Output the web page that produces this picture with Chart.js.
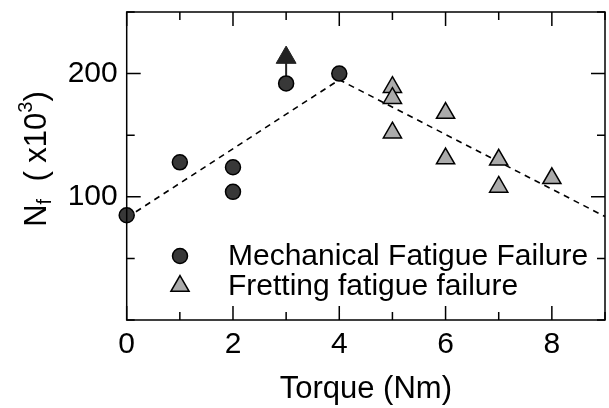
<!DOCTYPE html>
<html>
<head>
<meta charset="utf-8">
<script src="https://cdn.jsdelivr.net/npm/chart.js@4"></script>
<style>
  html, body { margin: 0; padding: 0; background: #fff; }
  #wrap { width: 609px; height: 408px; }
</style>
</head>
<body>
<div id="wrap"><canvas id="scatter-chart"></canvas></div>
<script>
// data (Nf in x10^3 cycles)
const mechTorque = [0, 1, 2, 2, 3, 4];
const mechCycles = [85, 128, 124, 104, 192, 200];
const frettTorque = [5, 5, 5, 6, 6, 7, 7, 8];
const frettCycles = [189, 180, 152, 168, 131, 130, 108, 115];
const runoutTorque = [3, 3];
const runoutCycles = [192, 213];
const trendTorque = [0, 4, 9];
const trendCycles = [83, 195, 84];
const xLabeled = [0, 2, 4, 6, 8];
const yLabeled = [100, 200];
const legendLabels = ["Mechanical Fatigue Failure", "Fretting fatigue failure"];

const pts = (xs, ys) => xs.map((x, i) => ({ x: x, y: ys[i] }));
const FONT = "Arial, 'Liberation Sans', sans-serif";

// box + inward ticks on all four sides
const frame = {
  id: 'boxTicks',
  afterDraw(chart) {
    const ctx = chart.ctx;
    const a = chart.chartArea;
    const sx = chart.scales.x, sy = chart.scales.y;
    ctx.save();
    ctx.strokeStyle = '#000';
    ctx.lineWidth = 1.5;
    ctx.setLineDash([]);
    ctx.strokeRect(a.left, a.top, a.right - a.left, a.bottom - a.top);
    ctx.beginPath();
    for (let v = sx.min; v <= sx.max; v += 1) {
      const px = sx.getPixelForValue(v);
      const len = xLabeled.includes(v) ? 14 : 8;
      ctx.moveTo(px, a.bottom); ctx.lineTo(px, a.bottom - len);
      ctx.moveTo(px, a.top); ctx.lineTo(px, a.top + len);
    }
    for (let v = sy.min; v <= sy.max; v += 50) {
      const py = sy.getPixelForValue(v);
      const len = yLabeled.includes(v) ? 14 : 8;
      ctx.moveTo(a.left, py); ctx.lineTo(a.left + len, py);
      ctx.moveTo(a.right, py); ctx.lineTo(a.right - len, py);
    }
    ctx.stroke();
    ctx.restore();
  }
};

// legend inside the plot + y title with sub/superscript
const extras = {
  id: 'extras',
  afterDraw(chart) {
    const { ctx } = chart;
    ctx.save();
    const items = [chart.data.datasets[0], chart.data.datasets[1]];
    const rows = [256, 286];
    items.forEach((ds, i) => {
      ctx.fillStyle = ds.pointBackgroundColor;
      ctx.strokeStyle = ds.pointBorderColor;
      ctx.lineWidth = ds.pointBorderWidth;
      ctx.beginPath();
      if (ds.pointStyle === 'circle') {
        ctx.arc(180, rows[i], ds.pointRadius, 0, Math.PI * 2);
      } else {
        const r = ds.pointRadius;
        ctx.moveTo(180, rows[i] - r);
        ctx.lineTo(180 + r * 0.866, rows[i] + r / 2);
        ctx.lineTo(180 - r * 0.866, rows[i] + r / 2);
        ctx.closePath();
      }
      ctx.fill(); ctx.stroke();
      ctx.fillStyle = '#000';
      ctx.font = '30px ' + FONT;
      ctx.textBaseline = 'middle';
      ctx.textAlign = 'left';
      ctx.fillText(legendLabels[i], 228, rows[i] + 1);
    });

    // y axis title
    ctx.translate(46, 159);
    ctx.rotate(-Math.PI / 2);
    ctx.textBaseline = 'alphabetic';
    ctx.textAlign = 'left';
    const big = '31px ' + FONT, small = '20px ' + FONT;
    const parts = [
      { t: 'N', f: big, dy: 0 },
      { t: 'f', f: small, dy: 5 },
      { t: '  ( x10', f: big, dy: 0 },
      { t: '3', f: small, dy: -14 },
      { t: ')', f: big, dy: 0 }
    ];
    let total = 0;
    parts.forEach(p => { ctx.font = p.f; p.w = ctx.measureText(p.t).width; total += p.w; });
    let cx = -total / 2;
    ctx.fillStyle = '#000';
    parts.forEach(p => { ctx.font = p.f; ctx.fillText(p.t, cx, p.dy); cx += p.w; });
    ctx.restore();
  }
};

new Chart(document.getElementById("scatter-chart"), {
  type: 'scatter',
  data: {
    datasets: [
      {
        label: legendLabels[0],
        data: pts(mechTorque, mechCycles),
        pointStyle: 'circle',
        pointRadius: 7.5,
        pointBackgroundColor: '#383838',
        pointBorderColor: '#000',
        pointBorderWidth: 1.5,
        clip: false
      },
      {
        label: legendLabels[1],
        data: pts(frettTorque, frettCycles),
        pointStyle: 'triangle',
        pointRadius: 10.5,
        pointBackgroundColor: '#ababab',
        pointBorderColor: '#000',
        pointBorderWidth: 1.5,
        clip: false
      },
      {
        label: 'run-out',
        data: pts(runoutTorque, runoutCycles),
        showLine: true,
        borderColor: '#222',
        borderWidth: 2,
        pointStyle: 'triangle',
        pointRadius: [0, 11.5],
        pointBackgroundColor: '#222',
        pointBorderColor: '#222',
        pointBorderWidth: 1,
        clip: false
      },
      {
        label: 'trend',
        data: pts(trendTorque, trendCycles),
        showLine: true,
        borderColor: '#000',
        borderWidth: 1.6,
        borderDash: [6, 5],
        pointRadius: 0,
        clip: false
      }
    ]
  },
  options: {
    responsive: true,
    maintainAspectRatio: false,
    animation: false,
    layout: { autoPadding: false, padding: { top: 12, right: 4, left: 0, bottom: 0 } },
    plugins: {
      legend: { display: false },
      tooltip: { enabled: false }
    },
    scales: {
      x: {
        type: 'linear',
        min: 0, max: 9,
        grid: { display: false, drawTicks: false },
        border: { display: false },
        ticks: {
          stepSize: 1,
          padding: 0,
          color: '#000',
          font: { size: 30, family: FONT, lineHeight: '50px' },
          callback: v => xLabeled.includes(v) ? String(v) : null
        },
        title: {
          display: true,
          text: 'Torque (Nm)',
          color: '#000',
          font: { size: 31, family: FONT },
          padding: { top: 0, bottom: 0 }
        },
        afterFit: s => { s.height = 88; s.paddingLeft = 0; s.paddingRight = 0; }
      },
      y: {
        type: 'linear',
        min: 0, max: 250,
        grid: { display: false, drawTicks: false },
        border: { display: false },
        ticks: {
          stepSize: 50,
          padding: 9,
          color: '#000',
          font: { size: 30, family: FONT },
          callback: v => yLabeled.includes(v) ? String(v) : null
        },
        afterFit: s => { s.width = 126.7; s.paddingTop = 0; s.paddingBottom = 0; }
      }
    }
  },
  plugins: [frame, extras]
});
</script>
</body>
</html>
